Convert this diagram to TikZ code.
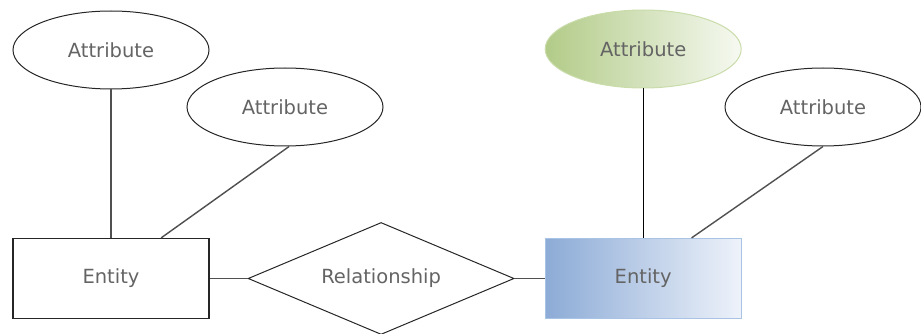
\documentclass[tikz,border=0pt]{standalone}
\usepackage{fontspec}
\setmainfont{DejaVu Sans}
\usetikzlibrary{positioning,shapes}
\definecolor{txtgray}{HTML}{646464}
\definecolor{lnkgray}{HTML}{505050}
\definecolor{greenL}{HTML}{B2CB88}
\definecolor{greenR}{HTML}{F6F9F1}
\definecolor{greenB}{HTML}{C9DCAA}
\definecolor{blueL}{HTML}{8CABD6}
\definecolor{blueR}{HTML}{EEF2FA}
\definecolor{blueB}{HTML}{A9C3E4}
\tikzset{
    %Define standard look
    thick,
    attr/.style={
      ellipse,
      draw=black!85, line width=1pt,
      minimum width=196pt,
      minimum height=78pt,
      inner sep=0pt,
      text=txtgray,
      text centered},
    keyattr/.style={
      attr,
      draw=greenB,
      left color=greenL, right color=greenR},
    entity/.style={
      rectangle,
      draw=black!85, line width=1.2pt,
      minimum width=196pt,
      minimum height=80pt,
      inner sep=0pt,
      text=txtgray,
      text centered},
    strongent/.style={
      entity,
      draw=blueB,
      left color=blueL, right color=blueR},
    rel/.style={
      diamond,
      aspect=2.375,
      draw=black!85, line width=1pt,
      minimum width=266pt,
      minimum height=112pt,
      inner sep=0pt,
      text=txtgray,
      text centered},
    link/.style={
      draw=lnkgray, line width=1.4pt},
}
\begin{document}
\begin{tikzpicture}[x=1pt,y=-1pt,font=\fontsize{19.5}{22}\selectfont]
    \useasboundingbox (0,0) rectangle (921,334);
    \node (ent1) [entity] at (111,278.5)
          {Entity};
    \node (rel1) [rel] [right=38pt of ent1]
          {Relationship}
          edge [link] (ent1);
    \node (ent2) [strongent] [right=30pt of rel1]
          {Entity}
          edge [link] (rel1);
    \node (attr1) [attr] at (111,50)
          {Attribute};
    \node (attr2) [attr] at (285,107)
          {Attribute};
    \node (attr3) [keyattr] at (ent2 |- 0,49)
          {Attribute};
    \node (attr4) [attr] at (823,107)
          {Attribute};
    % attribute links
    \draw [link] (attr1.south) -- (ent1.north);
    \draw [link] (attr2.-84) -- (ent1.39);
    \draw [link,draw=black] (attr3.south) -- (ent2.north);
    \draw [link] (attr4.south) -- (ent2.40);
\end{tikzpicture}
\end{document}
